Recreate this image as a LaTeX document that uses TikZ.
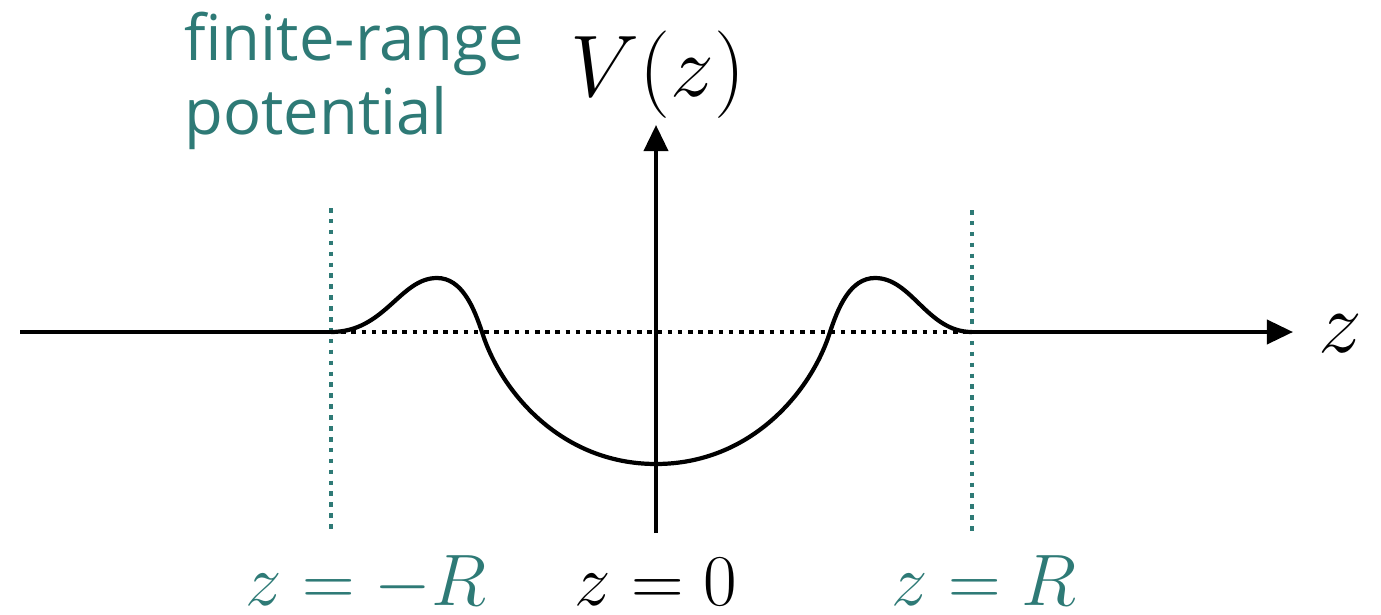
\documentclass[tikz,border=0pt]{standalone}
\usepackage{fontspec}
\setsansfont{Open Sans}
\usetikzlibrary{arrows.meta}
\definecolor{potteal}{RGB}{46,122,118}
\tikzset{
  axis/.style={line width=1.15pt},
  axisarrow/.style={axis, -{Triangle[length=7.4pt, width=6.8pt]}},
  rangeline/.style={potteal, line width=1.3pt, dash pattern=on 1.3pt off 1.8pt},
  zeroline/.style={black, line width=1.3pt, dash pattern=on 1.3pt off 1.6pt},
  potcurve/.style={line width=1.2pt},
  edgelbl/.style={potteal, anchor=base, font=\fontsize{20}{24}\selectfont},
}
\begin{document}
\begin{tikzpicture}[x=0.01cm, y=-0.01cm]
  \useasboundingbox (0,0) rectangle (1381,615);

  % range markers
  \coordinate (lefttop)  at (331,208);
  \coordinate (leftbot)  at (331,531);
  \coordinate (righttop) at (972,210);
  \coordinate (rightbot) at (972,531);
  \coordinate (leftedge)  at (331,332);
  \coordinate (rightedge) at (972,332);
  \draw[rangeline] (lefttop) -- (leftbot);
  \draw[rangeline] (righttop) -- (rightbot);

  % axes
  \coordinate (zstart) at (20,332);
  \coordinate (zend)   at (1293,332);
  \coordinate (vstart) at (656,533);
  \coordinate (vend)   at (656,125);
  \draw[axis] (zstart) -- (leftedge);
  \draw[zeroline] (leftedge) -- (rightedge);
  \draw[axisarrow] (rightedge) -- (zend);
  \draw[axisarrow] (vstart) -- (vend);
  \node[anchor=base, font=\fontsize{30}{34}\selectfont] (zlbl) at (1340,352) {$z$};
  \node[anchor=base, font=\fontsize{29}{33}\selectfont] (vlbl) at (658,97) {$V(z)$};

  % the potential
  \draw[potcurve] (leftedge)
    .. controls (385,332) and (400,278) .. (437,278)
    .. controls (462,278) and (474,308) .. (482,332)
    .. controls (500,390) and (560,464) .. (656,464)
    .. controls (752,464) and (812,390) .. (830,332)
    .. controls (838,308) and (850,278) .. (875,278)
    .. controls (912,278) and (927,332) .. (rightedge);

  \node[edgelbl] (minusR) at (366,605) {$z=-R$};
  \node[edgelbl, black] (origin) at (656,605) {$z=0$};
  \node[edgelbl] (plusR) at (984,605) {$z=R$};

  \node[potteal, anchor=north west, align=left, font=\sffamily\fontsize{18}{21}\selectfont] (title) at (172,0)
    {finite-range\\potential};
\end{tikzpicture}
\end{document}
